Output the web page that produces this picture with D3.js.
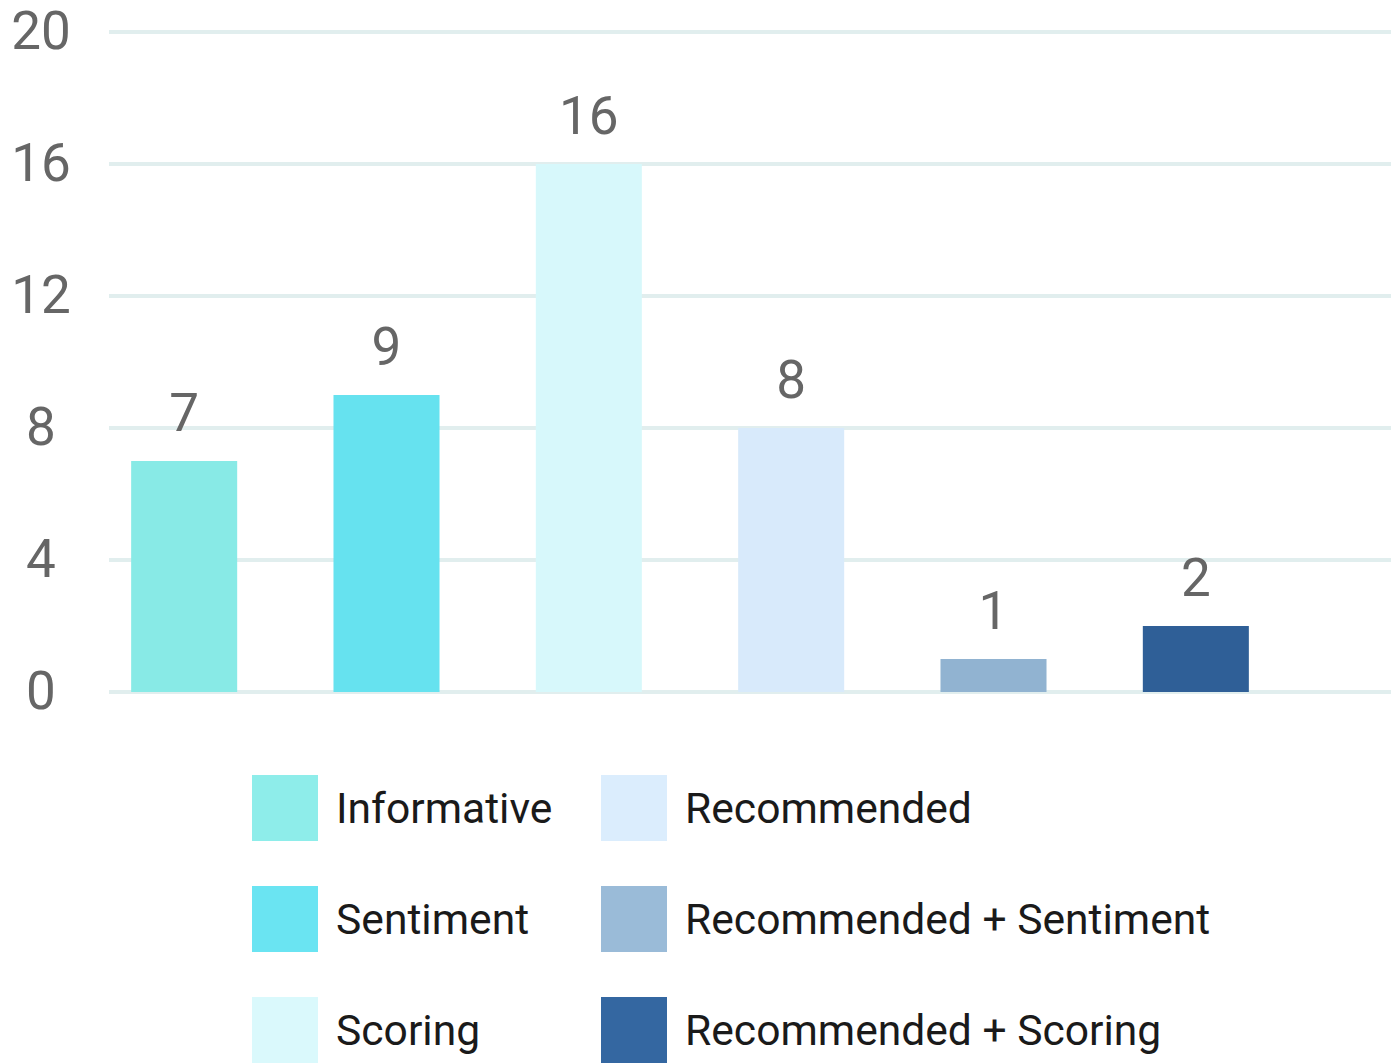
<!DOCTYPE html>
<html>
<head>
<meta charset="utf-8">
<script src="https://cdn.jsdelivr.net/npm/d3@7"></script>
<style>
  html, body { margin: 0; padding: 0; background: #fff; }
  svg { display: block; font-family: Roboto, "Noto Sans", sans-serif; }
</style>
</head>
<body>
<svg id="chart" width="1391" height="1063"></svg>
<script>
const categories = ["Informative", "Sentiment", "Scoring", "Recommended", "Recommended + Sentiment", "Recommended + Scoring"];
const values = [7, 9, 16, 8, 1, 2];
const yTicks = [0, 4, 8, 12, 16, 20];
const barColors = ["#88eae6", "#66e2ef", "#d7f8fb", "#d8eafb", "#91b3d1", "#2f5f97"];
const legendColors = ["#8eedea", "#6ae4f2", "#daf9fc", "#dbedfd", "#9abbd8", "#3467a1"];

const svg = d3.select("#chart");

const y = d3.scaleLinear().domain([0, 20]).range([692, 32]);
const x = d3.scaleBand().domain(categories).range([83, 1297]).paddingInner(0.476).paddingOuter(0.238);

// gridlines
svg.append("g").selectAll("line").data(yTicks).join("line")
  .attr("x1", 109).attr("x2", 1391)
  .attr("y1", d => y(d)).attr("y2", d => y(d))
  .attr("stroke", "#e1eeee").attr("stroke-width", 4);

// y tick labels
svg.append("g").selectAll("text").data(yTicks).join("text")
  .attr("x", 41).attr("y", d => y(d))
  .attr("dy", "0.33em")
  .attr("text-anchor", "middle")
  .attr("font-size", 53)
  .attr("fill", "#666666")
  .text(d => d);

// bars
svg.append("g").selectAll("rect").data(values).join("rect")
  .attr("x", (d, i) => x(categories[i]))
  .attr("width", x.bandwidth())
  .attr("y", d => y(d))
  .attr("height", d => y(0) - y(d))
  .attr("fill", (d, i) => barColors[i]);

// value labels
svg.append("g").selectAll("text").data(values).join("text")
  .attr("x", (d, i) => x(categories[i]) + x.bandwidth() / 2)
  .attr("y", d => y(d) - 30)
  .attr("text-anchor", "middle")
  .attr("font-size", 53)
  .attr("fill", "#666666")
  .text(d => d);

// legend
const legendCols = [252, 601];
const legendRowTop = [775, 886, 997];
const lg = svg.append("g").selectAll("g").data(categories).join("g")
  .attr("transform", (d, i) => `translate(${legendCols[Math.floor(i / 3)]},${legendRowTop[i % 3]})`);
lg.append("rect").attr("width", 66).attr("height", 66).attr("fill", (d, i) => legendColors[i]);
lg.append("text")
  .attr("x", 84).attr("y", 48)
  .attr("font-size", 42.6)
  .attr("fill", "#1a1a1a")
  .text(d => d);
</script>
</body>
</html>
